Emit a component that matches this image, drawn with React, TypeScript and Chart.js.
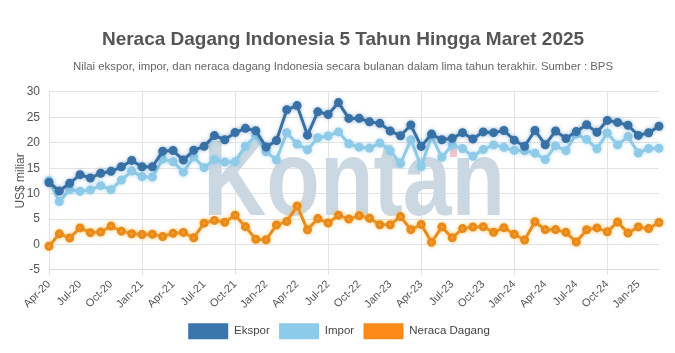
import React, { useEffect, useRef } from "react";
import { Chart, registerables } from "chart.js";

Chart.register(...registerables);

const labels = [
  "Apr-20","May-20","Jun-20","Jul-20","Aug-20","Sep-20","Oct-20","Nov-20","Dec-20",
  "Jan-21","Feb-21","Mar-21","Apr-21","May-21","Jun-21","Jul-21","Aug-21","Sep-21","Oct-21","Nov-21","Dec-21",
  "Jan-22","Feb-22","Mar-22","Apr-22","May-22","Jun-22","Jul-22","Aug-22","Sep-22","Oct-22","Nov-22","Dec-22",
  "Jan-23","Feb-23","Mar-23","Apr-23","May-23","Jun-23","Jul-23","Aug-23","Sep-23","Oct-23","Nov-23","Dec-23",
  "Jan-24","Feb-24","Mar-24","Apr-24","May-24","Jun-24","Jul-24","Aug-24","Sep-24","Oct-24","Nov-24","Dec-24",
  "Jan-25","Feb-25","Mar-25",
];

const ekspor = [
  12.19, 10.53, 12.03, 13.73, 13.07, 14.01, 14.39, 15.28, 16.54,
  15.30, 15.27, 18.35, 18.48, 16.60, 18.55, 19.30, 21.42, 20.60, 22.03, 22.84, 22.38,
  19.16, 20.46, 26.50, 27.32, 21.51, 26.09, 25.57, 27.91, 24.80, 24.81, 24.12, 23.83,
  22.31, 21.40, 23.50, 19.29, 21.72, 20.61, 20.88, 22.00, 20.76, 22.15, 22.00, 22.42,
  20.52, 19.31, 22.43, 19.62, 22.33, 20.84, 22.21, 23.56, 22.08, 24.41, 24.01, 23.46,
  21.45, 21.98, 23.25,
];

const impor = [
  12.54, 8.44, 10.76, 10.47, 10.74, 11.57, 10.78, 12.66, 14.44,
  13.34, 13.26, 16.79, 16.29, 14.23, 17.23, 15.11, 16.68, 16.23, 16.29, 19.33, 21.36,
  18.23, 16.64, 21.97, 19.76, 18.61, 21.00, 21.35, 22.15, 19.81, 19.14, 18.96, 19.94,
  18.44, 15.92, 20.59, 15.35, 21.28, 17.15, 19.57, 18.88, 17.34, 18.67, 19.59, 19.11,
  18.51, 18.44, 17.96, 16.70, 19.40, 18.45, 21.74, 20.67, 18.82, 21.94, 19.59, 21.22,
  18.00, 18.86, 18.92,
];

const neraca = [
  -0.35, 2.09, 1.27, 3.26, 2.33, 2.44, 3.61, 2.62, 2.10,
  1.96, 2.01, 1.57, 2.19, 2.37, 1.32, 4.19, 4.74, 4.37, 5.74, 3.51, 1.02,
  0.93, 3.83, 4.53, 7.56, 2.90, 5.09, 4.23, 5.76, 4.99, 5.67, 5.16, 3.89,
  3.87, 5.48, 2.91, 3.94, 0.44, 3.46, 1.31, 3.12, 3.42, 3.48, 2.41, 3.31,
  2.01, 0.87, 4.47, 2.92, 2.93, 2.39, 0.47, 2.89, 3.26, 2.48, 4.42, 2.24,
  3.45, 3.12, 4.33,
];

const FONT = "'Liberation Sans', Arial, Helvetica, sans-serif";
const glowColors = ["rgba(59,114,166,0.35)", "rgba(143,203,232,0.45)", "rgba(250,190,80,0.55)"];

const watermark = {
  id: "watermark",
  beforeDatasetsDraw(chart: any) {
    const { ctx } = chart;
    ctx.save();
    ctx.fillStyle = "#cbd8e2";
    ctx.font = `bold 107px ${FONT}`;
    ctx.textBaseline = "alphabetic";
    const text = "Kontan";
    const w = ctx.measureText(text).width;
    const target = 302;
    ctx.save();
    ctx.translate(203, 215);
    ctx.scale(target / w, 1);
    ctx.fillText(text, 0, 0);
    ctx.restore();
    ctx.fillStyle = "#f4c2ca";
    ctx.fillRect(450, 148, 7, 9);
    ctx.restore();
  },
  beforeDatasetDraw(chart: any, args: any) {
    const { ctx } = chart;
    ctx.save();
    ctx.shadowColor = glowColors[args.index] || "rgba(0,0,0,0)";
    ctx.shadowBlur = 4;
  },
  afterDatasetDraw(chart: any) {
    chart.ctx.restore();
  },
};

// shift the centred header blocks to match the reference's centring
const shiftHeader = {
  id: "shiftHeader",
  afterLayout(chart: any) {
    chart.boxes.forEach((b: any) => {
      if (b.options && typeof b.options.text === "string") {
        b.left += 11.5;
        b.right += 11.5;
      } else if (b === chart.legend) {
        b.left += 7.5;
        b.right += 7.5;
      }
    });
  },
};

export default function App() {
  const ref = useRef<HTMLCanvasElement>(null);
  useEffect(() => {
    if (!ref.current) return;
    const chart = new Chart(ref.current, {
      type: "line",
      data: {
        labels,
        datasets: [
          {
            label: "Ekspor",
            data: ekspor,
            borderColor: "#3871a6",
            backgroundColor: "#3a75ad",
            pointBackgroundColor: "#3871a6",
            pointBorderColor: "#3871a6",
            borderWidth: 3,
            pointRadius: 3,
            tension: 0,
          },
          {
            label: "Impor",
            data: impor,
            borderColor: "#8fcbe8",
            backgroundColor: "#8ccbe9",
            pointBackgroundColor: "#8fcbe8",
            pointBorderColor: "#8fcbe8",
            borderWidth: 3,
            pointRadius: 3,
            tension: 0,
          },
          {
            label: "Neraca Dagang",
            data: neraca,
            borderColor: "#e8891a",
            backgroundColor: "#fb8a18",
            pointBackgroundColor: "#e8891a",
            pointBorderColor: "#e8891a",
            borderWidth: 3,
            pointRadius: 3,
            tension: 0,
          },
        ],
      },
      options: {
        animation: false,
        responsive: true,
        maintainAspectRatio: false,
        layout: { padding: { left: 4, right: 16, top: 0, bottom: 3.7 } },
        plugins: {
          title: {
            display: true,
            text: "Neraca Dagang Indonesia 5 Tahun Hingga Maret 2025",
            color: "#555555",
            font: { family: FONT, size: 19, weight: "bold" },
            padding: { top: 28.5, bottom: 8.5 },
          },
          subtitle: {
            display: true,
            text: "Nilai ekspor, impor, dan neraca dagang Indonesia secara bulanan dalam lima tahun terakhir. Sumber : BPS",
            color: "#666666",
            font: { family: FONT, size: 11.4 },
            padding: { top: 0, bottom: 18.5 },
          },
          legend: {
            position: "bottom",
            labels: {
              color: "#444444",
              font: { family: FONT, size: 11.5 },
              boxWidth: 40,
              boxHeight: 16,
              padding: 9.3,
              generateLabels: (c: any) =>
                c.data.datasets.map((d: any, i: number) => ({
                  text: d.label,
                  fillStyle: d.backgroundColor,
                  strokeStyle: d.backgroundColor,
                  lineWidth: 0,
                  hidden: false,
                  datasetIndex: i,
                  fontColor: "#444444",
                })),
            },
          },
          tooltip: { enabled: false },
        },
        scales: {
          x: {
            offset: false,
            grid: {
              color: (ctx: any) => (ctx.index % 3 === 0 ? "#e3e3e3" : "rgba(0,0,0,0)"),
              tickLength: 5,
            },
            border: { color: "#dddddd" },
            ticks: {
              autoSkip: false,
              maxRotation: 45,
              minRotation: 45,
              color: "#555555",
              font: { family: FONT, size: 11 },
              callback: (_v: any, i: number) => (i % 3 === 0 ? labels[i] : null),
            },
          },
          y: {
            min: -5,
            max: 30,
            afterFit: (scale: any) => {
              scale.width = 45;
            },
            ticks: {
              stepSize: 5,
              color: "#555555",
              font: { family: FONT, size: 12 },
              padding: 9,
            },
            grid: { color: "#e3e3e3", tickLength: 0 },
            border: { display: false },
            title: {
              display: true,
              text: "US$ miliar",
              color: "#555555",
              font: { family: FONT, size: 12 },
              padding: { top: 9, bottom: 0 },
            },
          },
        },
      },
      plugins: [watermark, shiftHeader],
    });
    return () => chart.destroy();
  }, []);

  return (
    <div style={{ position: "fixed", left: 0, top: 0, width: 675, height: 353, background: "#fff" }}>
      <canvas ref={ref} />
    </div>
  );
}
